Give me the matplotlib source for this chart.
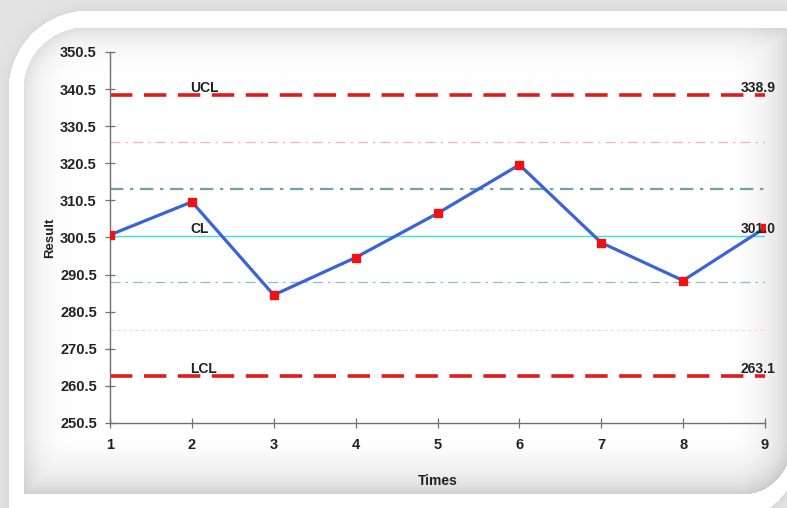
import numpy as np
import matplotlib
matplotlib.use('Agg')
from matplotlib import pyplot as plt

# measurements per run
times = [1, 2, 3, 4, 5, 6, 7, 8, 9]
results = [301.2, 310.1, 285.0, 295.1, 307.0, 320.1, 299.1, 288.9, 303.1]

# control limits
ucl = 338.9
cl = 301.0
lcl = 263.1
one_sigma = [313.6, 288.4]
two_sigma = [326.3, 275.7]

y_ticks = [250.5, 260.5, 270.5, 280.5, 290.5, 300.5, 310.5, 320.5, 330.5, 340.5, 350.5]

W, H = 787, 508

plt.rcParams['font.family'] = ['Liberation Sans', 'DejaVu Sans']


def rounded_box_dist(px, py, x0, y0, x1, y1, radii):
    # signed distance to a box with its own radius per corner (tl, tr, br, bl)
    r_tl, r_tr, r_br, r_bl = radii
    cx, cy = (x0 + x1) / 2, (y0 + y1) / 2
    right = px > cx
    lower = py > cy
    r = np.where(right, np.where(lower, r_br, r_tr), np.where(lower, r_bl, r_tl))
    bx, by = (x1 - x0) / 2 - r, (y1 - y0) / 2 - r
    qx = np.abs(px - cx) - bx
    qy = np.abs(py - cy) - by
    outside = np.hypot(np.maximum(qx, 0), np.maximum(qy, 0))
    inside = np.minimum(np.maximum(qx, qy), 0)
    return outside + inside - r


def backdrop():
    yy, xx = np.mgrid[0:H, 0:W].astype(float)
    img = np.full((H, W), 0.89)
    # white frame
    d_frame = rounded_box_dist(xx, yy, 8, 10, 800, 522, (80, 0, 75, 0))
    img = np.where(d_frame < 0, 1.0, img - 0.04 * np.exp(-np.maximum(d_frame, 0) / 6))
    # inner panel with soft grey edges
    d_panel = rounded_box_dist(xx, yy, 23, 27, 790, 494, (62, 8, 48, 0))
    depth = -d_panel
    shade = 1.0 - 0.13 * np.exp(-depth / 16)
    shade -= 0.06 * np.clip((yy - 440) / 54, 0, 1)
    shade -= 0.05 * np.clip((xx - 735) / 52, 0, 1)
    img = np.where(d_panel < 0, shade, img)
    return np.clip(img, 0, 1)


fig = plt.figure(figsize=(W / 100, H / 100), dpi=100)

bg = fig.add_axes([0, 0, 1, 1], zorder=0)
bg.imshow(backdrop(), cmap='gray', vmin=0, vmax=1, extent=(0, W, H, 0), interpolation='bilinear')
bg.set_xlim(0, W)
bg.set_ylim(H, 0)
bg.axis('off')

ax = fig.add_axes([110 / W, 1 - 423 / H, 655 / W, 371 / H], zorder=1)
ax.patch.set_alpha(0)

ax.axhline(ucl, color='#e01b1b', lw=2.6, dashes=(6.2, 3.2), zorder=2)
ax.axhline(lcl, color='#e01b1b', lw=2.6, dashes=(6.2, 3.2), zorder=2)
ax.axhline(cl, color='#3fdce4', lw=1.0, zorder=2)
ax.axhline(one_sigma[0], color='#6fa3a0', lw=1.6, dashes=(6, 3, 1.5, 3), zorder=2)
ax.axhline(one_sigma[1], color='#8cc0c0', lw=0.9, dashes=(8, 4, 2, 4), zorder=2)
ax.axhline(two_sigma[0], color='#f4b4b4', lw=0.9, dashes=(8, 4, 2, 4), zorder=2)
ax.axhline(two_sigma[1], color='#fbdcdc', lw=0.9, dashes=(3, 2), zorder=2)

ax.plot(times, results, color='#3b63d9', lw=2.3, zorder=3)
ax.plot(times, results, linestyle='none', marker='s', markersize=5.5,
        color='#ee1212', zorder=4)

ax.text(1.98, ucl, 'UCL', fontsize=10, fontweight='bold', color='#222222',
        ha='left', va='bottom', zorder=5)
ax.text(1.98, cl, 'CL', fontsize=10, fontweight='bold', color='#222222',
        ha='left', va='bottom', zorder=5)
ax.text(1.98, lcl, 'LCL', fontsize=10, fontweight='bold', color='#222222',
        ha='left', va='bottom', zorder=5)
for v in [ucl, cl, lcl]:
    ax.text(8.70, v, '%.1f' % v, fontsize=10, fontweight='bold', color='#222222',
            ha='left', va='bottom', zorder=5)

ax.set_xlim(1, 9)
ax.set_ylim(250.5, 350.5)
ax.set_xticks(times)
ax.set_yticks(y_ticks)
ax.set_yticklabels(['%.1f' % v for v in y_ticks])

for side in ['top', 'right']:
    ax.spines[side].set_visible(False)
for side in ['left', 'bottom']:
    ax.spines[side].set_color('#707070')
    ax.spines[side].set_linewidth(1.0)

ax.tick_params(axis='x', direction='inout', length=7, width=0.9, color='#707070',
               pad=7, labelsize=10.5, labelcolor='#222222')
ax.tick_params(axis='y', direction='inout', length=7, width=0.9, color='#707070',
               pad=6, labelsize=10.5, labelcolor='#222222')
for lab in ax.get_xticklabels() + ax.get_yticklabels():
    lab.set_fontweight('bold')

ax.set_xlabel('Times', fontsize=10, fontweight='bold', color='#222222', labelpad=16)
ax.set_ylabel('Result', fontsize=9.5, fontweight='bold', color='#222222', labelpad=3)

fig.savefig('out.png', dpi=100)
